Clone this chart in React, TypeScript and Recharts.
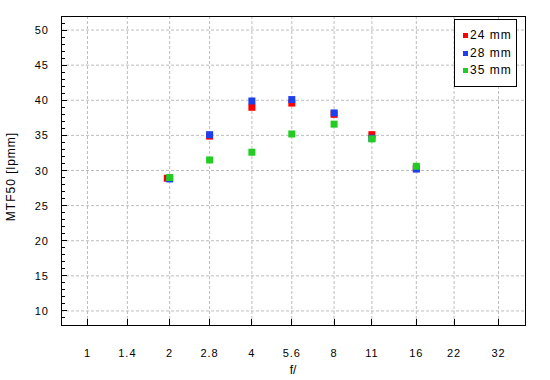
import {
  ScatterChart,
  Scatter,
  XAxis,
  YAxis,
  CartesianGrid,
  Legend,
  ReferenceArea,
} from "recharts"

// f-stop ticks on the log axis
const fTicks = [1, 1.4, 2, 2.8, 4, 5.6, 8, 11, 16, 22, 32]
const yMinor = Array.from({ length: 45 }, (_, i) => 8 + i)
const yMajor = [10, 15, 20, 25, 30, 35, 40, 45, 50]

// measured apertures per focal length
const fStops24 = [1.96, 2.8, 4, 5.6, 8, 11, 16]
const fStops = [2, 2.8, 4, 5.6, 8, 11, 16]

const mtf24 = [28.9, 34.9, 39.0, 39.6, 38.0, 35.1, 30.3]
const mtf28 = [28.8, 35.1, 39.9, 40.1, 38.2, 34.6, 30.2]
const mtf35 = [29.0, 31.5, 32.6, 35.2, 36.6, 34.5, 30.6]

const FONT = "'Liberation Sans', Arial, sans-serif"

const toPoints = (xs: number[], ys: number[]) => xs.map((f, i) => ({ f, v: ys[i] }))

const series = [
  { name: "24 mm", color: "#ff0000", data: toPoints(fStops24, mtf24) },
  { name: "28 mm", color: "#1f3fef", data: toPoints(fStops, mtf28) },
  { name: "35 mm", color: "#22cc22", data: toPoints(fStops, mtf35) },
]

const YTick = (props: any) => {
  const { x, y, payload } = props
  const major = yMajor.includes(payload.value)
  return (
    <g>
      <line x1={x} x2={x + (major ? 6 : 4)} y1={y} y2={y} stroke="#000" shapeRendering="crispEdges" />
      {major && (
        <text x={x - 12} y={y + 4} textAnchor="end" fontSize={11} letterSpacing={1} fill="#000" fontFamily={FONT}>
          {payload.value}
        </text>
      )}
    </g>
  )
}

const XTick = (props: any) => {
  const { x, y, payload } = props
  return (
    <g>
      <line x1={x} x2={x} y1={y} y2={y - 6} stroke="#000" shapeRendering="crispEdges" />
      <text x={x} y={y + 32} textAnchor="middle" fontSize={11} letterSpacing={1} fill="#000" fontFamily={FONT}>
        {payload.value}
      </text>
    </g>
  )
}

const Square = (props: any) => {
  const { cx, cy, fill } = props
  return <rect x={cx - 3.5} y={cy - 3.5} width={7} height={7} fill={fill} />
}

const LegendBox = () => (
  <div
    style={{
      boxSizing: "border-box",
      width: 63,
      height: 68,
      border: "1px solid #000",
      background: "#fff",
      padding: "7px 0 0 8px",
      fontFamily: FONT,
      fontSize: 12,
      letterSpacing: 1,
      color: "#000",
    }}
  >
    {series.map((s) => (
      <div key={s.name} style={{ height: 17.5, lineHeight: "17.5px", display: "flex", alignItems: "center", whiteSpace: "nowrap" }}>
        <span style={{ display: "inline-block", width: 5, height: 5, background: s.color, marginRight: 2 }} />
        <span>{s.name}</span>
      </div>
    ))}
  </div>
)

export default function App() {
  return (
    <div style={{ position: "absolute", left: 0, top: 0, width: 550, height: 380, background: "#fff", fontFamily: FONT }}>
      <ScatterChart width={550} height={380} margin={{ top: 16, right: 25, bottom: 0, left: 0 }}>
        <CartesianGrid
          stroke="#bdbdbd"
          strokeDasharray="3 2"
          horizontalValues={yMajor}
          verticalValues={fTicks}
        />
        <XAxis
          type="number"
          dataKey="f"
          scale="log"
          domain={[0.8, 40]}
          ticks={fTicks}
          interval={0}
          allowDataOverflow
          height={55}
          tickSize={0}
          tickMargin={0}
          axisLine={false}
          tickLine={false}
          tick={XTick}
          label={{ value: "f/", position: "insideBottom", offset: 6, fontSize: 12, fill: "#000", fontFamily: FONT }}
        />
        <YAxis
          type="number"
          dataKey="v"
          domain={[8, 52]}
          ticks={yMinor}
          interval={0}
          allowDataOverflow
          width={61}
          tickSize={0}
          tickMargin={0}
          axisLine={false}
          tickLine={false}
          tick={YTick}
          label={{ value: "MTF50 [lpmm]", angle: -90, position: "center", dx: -20, dy: 6, fontSize: 12, letterSpacing: 1, fill: "#000", fontFamily: FONT }}
        />
        <ReferenceArea x1={0.8} x2={40} y1={8} y2={52} fill="none" stroke="#000" strokeWidth={1} shapeRendering="crispEdges" ifOverflow="visible" />
        {series.map((s) => (
          <Scatter key={s.name} name={s.name} data={s.data} fill={s.color} shape={Square} isAnimationActive={false} />
        ))}
        <Legend
          layout="horizontal"
          verticalAlign="middle"
          align="center"
          wrapperStyle={{ top: 19, left: 454, width: 63, height: 68 }}
          content={LegendBox}
        />
      </ScatterChart>
    </div>
  )
}
